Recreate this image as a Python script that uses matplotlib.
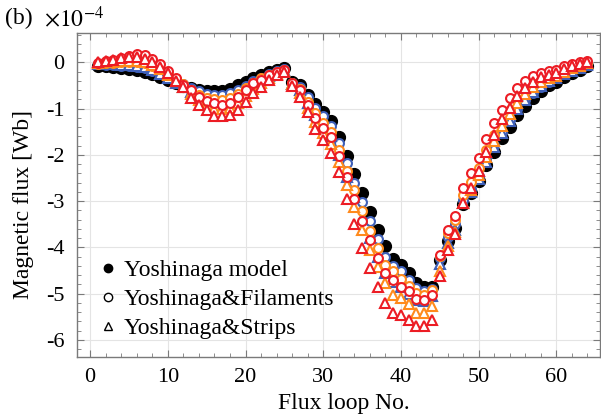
import numpy as np
import matplotlib
matplotlib.use("Agg")
import matplotlib.pyplot as plt
from matplotlib.lines import Line2D
from matplotlib.ticker import MultipleLocator

plt.rcParams['font.family'] = ['Liberation Serif', 'DejaVu Serif']
plt.rcParams['mathtext.fontset'] = 'stix'
plt.rcParams['axes.unicode_minus'] = False

loop_no = np.arange(1, 65)

# values in units of 1e-4 Wb
yoshinaga = [-0.07, -0.08, -0.10, -0.12, -0.14, -0.17, -0.21, -0.26, -0.32, -0.38,
             -0.45, -0.51, -0.56, -0.60, -0.62, -0.62, -0.61, -0.57, -0.50, -0.43,
             -0.35, -0.28, -0.22, -0.17, -0.12,
             -0.43, -0.50, -0.70, -0.90, -1.07, -1.27, -1.62, -2.02, -2.42, -2.83,
             -3.23, -3.62, -3.97, -4.25, -4.39, -4.56, -4.78, -4.86, -4.86,
             -4.27, -3.86, -3.59, -3.07, -2.83, -2.57, -2.23, -1.93, -1.64, -1.39,
             -1.15, -0.95, -0.78, -0.63, -0.50, -0.42, -0.31, -0.24, -0.16, -0.07]

fil_blue = [-0.04, -0.05, -0.06, -0.07, -0.08, -0.10, -0.13, -0.18, -0.25, -0.32,
            -0.40, -0.48, -0.56, -0.63, -0.68, -0.70, -0.70, -0.67, -0.60, -0.51,
            -0.41, -0.33, -0.26, -0.19, -0.14,
            -0.45, -0.53, -0.76, -0.98, -1.17, -1.38, -1.75, -2.17, -2.60, -3.03,
            -3.43, -3.82, -4.20, -4.41, -4.52, -4.70, -4.88, -4.95, -4.90,
            -4.22, -3.78, -3.50, -2.98, -2.73, -2.45, -2.10, -1.79, -1.50, -1.24,
            -1.01, -0.82, -0.67, -0.53, -0.42, -0.35, -0.25, -0.19, -0.12, -0.05]

fil_orange = [-0.03, -0.02, -0.01, 0.00, 0.00, 0.00, -0.02, -0.07, -0.15, -0.26,
              -0.37, -0.48, -0.60, -0.70, -0.77, -0.80, -0.81, -0.78, -0.68, -0.56,
              -0.44, -0.35, -0.27, -0.21, -0.16,
              -0.45, -0.57, -0.85, -1.10, -1.31, -1.50, -1.89, -2.35, -2.77, -3.22,
              -3.64, -4.02, -4.38, -4.52, -4.69, -4.83, -4.99, -5.03, -4.92,
              -4.18, -3.70, -3.40, -2.86, -2.58, -2.28, -1.90, -1.58, -1.28, -1.03,
              -0.80, -0.62, -0.49, -0.39, -0.31, -0.26, -0.18, -0.12, -0.07, -0.01]

fil_red = [-0.02, 0.02, 0.06, 0.10, 0.14, 0.17, 0.15, 0.08, -0.03, -0.18,
           -0.35, -0.49, -0.60, -0.74, -0.84, -0.89, -0.92, -0.89, -0.74, -0.60,
           -0.45, -0.38, -0.27, -0.20, -0.17,
           -0.45, -0.60, -0.92, -1.21, -1.43, -1.62, -2.02, -2.49, -2.95, -3.44,
           -3.84, -4.22, -4.56, -4.70, -4.85, -4.95, -5.11, -5.13, -5.03,
           -4.16, -3.62, -3.33, -2.72, -2.40, -2.07, -1.66, -1.32, -1.03, -0.78,
           -0.56, -0.40, -0.30, -0.24, -0.19, -0.17, -0.09, -0.04, 0.00, 0.03]

str_blue = [-0.03, -0.03, -0.04, -0.05, -0.06, -0.08, -0.11, -0.17, -0.25, -0.34,
            -0.44, -0.54, -0.64, -0.73, -0.80, -0.84, -0.85, -0.82, -0.73, -0.61,
            -0.49, -0.39, -0.30, -0.22, -0.16,
            -0.47, -0.60, -0.88, -1.15, -1.38, -1.60, -2.00, -2.48, -2.92, -3.38,
            -3.80, -4.20, -4.55, -4.74, -4.86, -5.00, -5.13, -5.15, -5.05,
            -4.35, -3.90, -3.62, -3.05, -2.80, -2.52, -2.16, -1.84, -1.52, -1.26,
            -1.02, -0.82, -0.65, -0.52, -0.41, -0.35, -0.25, -0.18, -0.12, -0.05]

str_orange = [-0.01, 0.00, 0.01, 0.02, 0.03, 0.03, 0.01, -0.05, -0.14, -0.27,
              -0.40, -0.53, -0.68, -0.82, -0.93, -1.00, -1.02, -0.99, -0.88, -0.73,
              -0.57, -0.45, -0.34, -0.25, -0.18,
              -0.48, -0.66, -0.98, -1.28, -1.52, -1.76, -2.15, -2.65, -3.13, -3.62,
              -4.05, -4.43, -4.77, -5.03, -5.10, -5.22, -5.41, -5.42, -5.26,
              -4.52, -3.98, -3.66, -3.04, -2.76, -2.44, -2.05, -1.71, -1.38, -1.12,
              -0.88, -0.69, -0.54, -0.42, -0.34, -0.30, -0.20, -0.13, -0.08, -0.02]

str_red = [0.00, 0.03, 0.06, 0.09, 0.11, 0.11, 0.07, 0.00, -0.10, -0.24,
           -0.40, -0.53, -0.78, -0.92, -1.03, -1.17, -1.17, -1.14, -1.03, -0.85,
           -0.67, -0.53, -0.38, -0.27, -0.20,
           -0.51, -0.74, -1.07, -1.45, -1.68, -1.95, -2.37, -2.96, -3.49, -4.02,
           -4.45, -4.86, -5.21, -5.41, -5.46, -5.57, -5.71, -5.71, -5.58,
           -4.63, -4.05, -3.71, -3.05, -2.72, -2.36, -1.93, -1.57, -1.23, -0.99,
           -0.73, -0.56, -0.42, -0.32, -0.27, -0.24, -0.15, -0.08, -0.04, 0.01]

legend_labels = ["Yoshinaga model", "Yoshinaga&Filaments", "Yoshinaga&Strips"]

c_blue = '#3e5fb8'
c_orange = '#ff8a1c'
c_red = '#ec1c24'

fig = plt.figure(figsize=(6.01, 4.19), dpi=100)
ax = fig.add_axes([0.128, 0.148, 0.87, 0.774])

ax.plot(loop_no, yoshinaga, 'o', color='black', ms=8.5, zorder=3)
ax.plot(loop_no, fil_blue, 'o', mfc='white', mec=c_blue, ms=6.4, mew=1.5, zorder=4)
ax.plot(loop_no, str_blue, '^', mfc='white', mec=c_blue, ms=6.6, mew=1.5, zorder=5)
ax.plot(loop_no, fil_orange, 'o', mfc='white', mec=c_orange, ms=6.4, mew=1.5, zorder=6)
ax.plot(loop_no, str_orange, '^', mfc='white', mec=c_orange, ms=6.6, mew=1.5, zorder=7)
ax.plot(loop_no, fil_red, 'o', mfc='white', mec=c_red, ms=6.4, mew=1.5, zorder=8)
ax.plot(loop_no, str_red, '^', mfc='white', mec=c_red, ms=6.6, mew=1.5, zorder=9)

ax.set_xlim(-1.7, 65.6)
ax.set_ylim(-6.37, 0.64)
ax.xaxis.set_major_locator(MultipleLocator(10))
ax.xaxis.set_minor_locator(MultipleLocator(2))
ax.yaxis.set_major_locator(MultipleLocator(1))
ax.yaxis.set_minor_locator(MultipleLocator(0.2))
ax.grid(True, which='major', color='#e4e4e4', lw=0.8)
ax.set_axisbelow(True)
for sp in ax.spines.values():
    sp.set_color('#7a7a7a')
    sp.set_linewidth(1.0)
ax.tick_params(which='both', direction='in', top=True, right=True,
               color='#7a7a7a', labelsize=16)
ax.tick_params(which='major', length=5)
ax.tick_params(which='minor', length=3)
ax.tick_params(axis='x', pad=8)
ax.tick_params(axis='y', pad=9)

ax.set_xlabel("Flux loop No.", fontsize=17)
ax.xaxis.set_label_coords(0.51, -0.112)
ax.set_ylabel("Magnetic flux [Wb]", fontsize=17, va='center')
ax.yaxis.set_label_coords(-0.102, 0.47)

handles = [Line2D([], [], ls='none', marker='o', color='black', ms=6),
           Line2D([], [], ls='none', marker='o', mfc='white', mec='black', ms=6, mew=1),
           Line2D([], [], ls='none', marker='^', mfc='white', mec='black', ms=6, mew=1)]
ax.legend(handles, legend_labels, loc='lower left', bbox_to_anchor=(0.0, -0.01),
          frameon=False, fontsize=17, handlelength=0.8, handletextpad=0.3,
          labelspacing=0.32)

fig.text(0.008, 0.955, "(b)", fontsize=17, va='center')
fig.text(0.074, 0.955, r"$\times10^{-4}$", fontsize=17, va='center')

fig.savefig("out.png", dpi=100)
